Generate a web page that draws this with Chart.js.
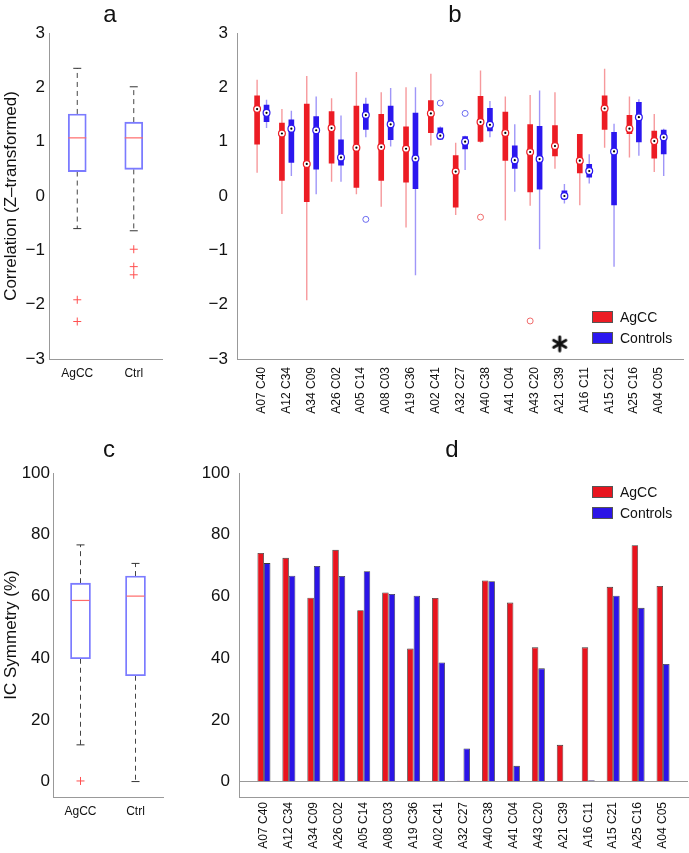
<!DOCTYPE html>
<html>
<head>
<meta charset="utf-8">
<script src="https://cdn.jsdelivr.net/npm/chart.js@4.4.1/dist/chart.umd.min.js"></script>
<style>
  body { margin: 0; background: #fff; font-family: "Liberation Sans", Arial, Helvetica, sans-serif; }
  #fig { position: relative; width: 689px; height: 853px; overflow: hidden; }
  canvas { position: absolute; }
  .letter { position: absolute; width: 40px; text-align: center; font-size: 24px; line-height: 24px; color: #111; }
  .legend { position: absolute; font-size: 14px; line-height: 21px; color: #111; }
  .legend .sw { display: inline-block; width: 19px; height: 10px; border: 1px solid #555; margin-right: 7px; vertical-align: -1px; }
</style>
</head>
<body>
<div id="fig">
  <canvas id="chartA" width="180" height="420" style="left:0;top:0"></canvas>
  <canvas id="chartB" width="509" height="420" style="left:180px;top:0"></canvas>
  <canvas id="chartC" width="180" height="433" style="left:0;top:420px"></canvas>
  <canvas id="chartD" width="509" height="433" style="left:180px;top:420px"></canvas>

  <div class="letter" style="left:90px;top:2px">a</div>
  <div class="letter" style="left:435px;top:2px">b</div>
  <div class="letter" style="left:89px;top:437px">c</div>
  <div class="letter" style="left:432px;top:437px">d</div>

  <div class="legend" style="left:592px;top:307px">
    <div><span class="sw" style="background:#ec1c24"></span>AgCC</div>
    <div><span class="sw" style="background:#2b17ef"></span>Controls</div>
  </div>
  <div class="legend" style="left:592px;top:482px">
    <div><span class="sw" style="background:#e8141e"></span>AgCC</div>
    <div><span class="sw" style="background:#2b14e6"></span>Controls</div>
  </div>
</div>

<script>
// ---- data ----
const groups = ["AgCC", "Ctrl"];

// panel a: correlation summary boxplots
const corrLow = [-0.6, -0.64];
const corrQ1 = [0.45, 0.49];
const corrMed = [1.07, 1.07];
const corrQ3 = [1.51, 1.36];
const corrHigh = [2.35, 2.01];
const corrOutliers = [[-1.91, -2.31], [-0.98, -1.3, -1.45]];
const corrTicks = [-3, -2, -1, 0, 1, 2, 3];

// panel b: per-pair boxplots
const pairs = ["A07 C40", "A12 C34", "A34 C09", "A26 C02", "A05 C14", "A08 C03", "A19 C36", "A02 C41",
  "A32 C27", "A40 C38", "A41 C04", "A43 C20", "A21 C39", "A16 C11", "A15 C21", "A25 C16", "A04 C05"];

const agccLow = [0.43, -0.33, -1.92, 0.26, 0.03, -0.2, -0.58, 0.93, -0.35, 0.98, -0.45, -0.18, 0.5, -0.17, 0.89, 0.71, 0.44];
const agccQ1 = [0.95, 0.28, -0.11, 0.6, 0.15, 0.28, 0.25, 1.16, -0.21, 1.0, 0.65, 0.07, 0.73, 0.42, 1.22, 1.14, 0.69];
const agccMed = [1.6, 1.15, 0.59, 1.25, 0.89, 0.9, 0.87, 1.52, 0.45, 1.36, 1.16, 0.81, 0.92, 0.65, 1.61, 1.24, 1.01];
const agccQ3 = [1.85, 1.35, 1.7, 1.56, 1.66, 1.51, 1.28, 1.76, 0.75, 1.84, 1.55, 1.32, 1.3, 1.14, 1.85, 1.49, 1.2];
const agccHigh = [2.14, 1.6, 2.21, 1.8, 2.28, 1.91, 2.0, 2.25, 0.98, 2.31, 1.83, 1.86, 1.91, 1.14, 2.34, 1.83, 1.51];
const agccOutliers = { "A40 C38": [-0.39], "A43 C20": [-2.3] };

const ctrlLow = [1.25, 0.37, 0.03, 0.26, 1.08, 0.91, -1.46, 1.03, 0.48, 1.08, 0.08, -0.98, -0.14, 0.23, -1.3, 0.74, 0.37];
const ctrlQ1 = [1.36, 0.61, 0.49, 0.56, 1.22, 1.03, 0.13, 1.04, 0.86, 1.19, 0.5, 0.12, -0.06, 0.34, -0.17, 0.99, 0.77];
const ctrlMed = [1.53, 1.24, 1.21, 0.71, 1.49, 1.32, 0.69, 1.11, 1.0, 1.31, 0.66, 0.68, 0.0, 0.46, 0.82, 1.45, 1.08];
const ctrlQ3 = [1.68, 1.41, 1.47, 1.04, 1.7, 1.66, 1.53, 1.26, 1.1, 1.62, 0.93, 1.29, 0.1, 0.59, 1.18, 1.73, 1.22];
const ctrlHigh = [1.77, 1.57, 1.83, 1.48, 1.81, 1.99, 2.0, 1.28, 1.11, 1.75, 1.32, 1.94, 0.22, 0.77, 1.33, 1.78, 1.24];
const ctrlOutliers = { "A05 C14": [-0.43], "A02 C41": [1.71], "A32 C27": [1.52] };

const significantPairs = ["A21 C39"];
const starLevel = -2.72;

// panel c: IC symmetry summary boxplots
const symLow = [11.9, 0];
const symQ1 = [39.8, 34.3];
const symMed = [58.7, 60.1];
const symQ3 = [64.3, 66.6];
const symHigh = [76.7, 70.7];
const symOutliers = [[0.2], []];
const symTicks = [0, 20, 40, 60, 80, 100];

// panel d: IC symmetry per pair
const agccSym = [74.1, 72.5, 59.6, 75.1, 55.5, 61.3, 43.1, 59.5, 0.3, 65.2, 58.0, 43.5, 11.9, 43.5, 63.1, 76.6, 63.4];
const ctrlSym = [70.8, 66.7, 69.9, 66.6, 68.2, 60.8, 60.2, 38.6, 10.7, 64.9, 5.1, 36.7, 0.15, 0.4, 60.2, 56.3, 38.1];

// ---- style ----
Chart.defaults.font.family = '"Liberation Sans", Arial, Helvetica, sans-serif';
Chart.defaults.color = "#111";
Chart.defaults.animation = false;

const RED = "#ec1c24";
const BLUE = "#2b17ef";
const AXIS = "#999";

const minus = (v) => String(v).replace("-", "\u2212");
const noPlugins = { legend: { display: false }, tooltip: { enabled: false } };

// six-armed bold asterisk used as a point style for the significance mark
function asteriskStyle() {
  const c = document.createElement("canvas");
  c.width = 18;
  c.height = 18;
  const g = c.getContext("2d");
  g.strokeStyle = "#111";
  g.lineWidth = 3;
  g.lineCap = "round";
  g.translate(9, 9);
  for (let k = 0; k < 3; k++) {
    g.beginPath();
    g.moveTo(0, -7);
    g.lineTo(0, 7);
    g.stroke();
    g.rotate(Math.PI / 3);
  }
  return c;
}

// summary boxplot for panels a and c
function summaryChart(id, s) {
  const xs = groups.map((g, i) => i + 1);
  const whiskers = [];
  const caps = [];
  xs.forEach((x, i) => {
    whiskers.push({ x, y: s.q3[i] }, { x, y: s.high[i] }, { x, y: null });
    whiskers.push({ x, y: s.q1[i] }, { x, y: s.low[i] }, { x, y: null });
    caps.push({ x, y: s.high[i] }, { x, y: s.low[i] });
  });
  const outliers = [];
  s.outliers.forEach((list, i) => list.forEach((v) => outliers.push({ x: i + 1, y: v })));

  new Chart(document.getElementById(id), {
    type: "bar",
    data: {
      datasets: [
        {
          type: "scatter",
          data: xs.map((x, i) => ({ x, y: s.med[i] })),
          pointStyle: "line",
          pointRadius: 9,
          borderColor: "#ff6a6a",
          borderWidth: 1.2,
          order: 0,
        },
        {
          type: "scatter",
          data: outliers,
          pointStyle: "cross",
          pointRadius: 4,
          borderColor: "#ff5050",
          borderWidth: 1,
          order: 0,
        },
        {
          type: "scatter",
          data: caps,
          pointStyle: "line",
          pointRadius: 4,
          borderColor: "#333",
          borderWidth: 1,
          order: 1,
        },
        {
          type: "bar",
          data: xs.map((x, i) => ({ x, y: [s.q1[i], s.q3[i]] })),
          backgroundColor: "rgba(0,0,0,0)",
          borderColor: "#7b7bff",
          borderWidth: 1.2,
          borderSkipped: false,
          barThickness: s.boxWidth,
          order: 2,
        },
        {
          type: "line",
          data: whiskers,
          borderColor: "#444",
          borderWidth: 1,
          borderDash: [5, 4],
          pointRadius: 0,
          spanGaps: false,
          order: 3,
        },
      ],
    },
    options: {
      responsive: false,
      layout: { padding: s.padding },
      plugins: noPlugins,
      scales: {
        x: {
          type: "linear",
          min: 0.5,
          max: 2.5,
          offset: false,
          grid: { display: false, drawTicks: false },
          border: { color: AXIS },
          afterBuildTicks: (sc) => { sc.ticks = xs.map((v) => ({ value: v })); },
          afterFit: (sc) => { sc.height = s.xHeight; },
          ticks: { callback: (v) => groups[v - 1], font: { size: 12 }, padding: 7, maxRotation: 0 },
        },
        y: {
          type: "linear",
          min: s.yMin,
          max: s.yMax,
          grid: { display: false, drawTicks: false },
          border: { color: AXIS },
          afterBuildTicks: (sc) => { sc.ticks = s.ticks.map((v) => ({ value: v })); },
          afterFit: (sc) => { sc.width = s.yWidth; },
          ticks: { callback: (v) => minus(v), font: { size: 17 }, padding: s.tickPad },
          title: { display: true, text: s.title, font: { size: 17 }, padding: { top: 1, bottom: 0 } },
        },
      },
    },
  });
}

summaryChart("chartA", {
  low: corrLow, q1: corrQ1, med: corrMed, q3: corrQ3, high: corrHigh, outliers: corrOutliers,
  ticks: corrTicks, yMin: -3, yMax: 3, title: "Correlation (Z\u2013transformed)",
  padding: { left: 0, top: 33, right: 18, bottom: 0 }, xHeight: 61, yWidth: 49, tickPad: 4, boxWidth: 18,
});

summaryChart("chartC", {
  low: symLow, q1: symQ1, med: symMed, q3: symQ3, high: symHigh, outliers: symOutliers,
  ticks: symTicks, yMin: -5, yMax: 100, title: "IC Symmetry (%)",
  padding: { left: 0, top: 53, right: 17, bottom: 0 }, xHeight: 56, yWidth: 53, tickPad: 3, boxWidth: 20,
});

// shared x axis for the per-pair panels (positions 1..17, limits 0..18)
function pairAxis(xHeight, pad) {
  return {
    type: "linear",
    min: 0,
    max: pairs.length + 1,
    offset: false,
    grid: { display: false, drawTicks: false },
    border: { color: AXIS },
    afterBuildTicks: (sc) => { sc.ticks = pairs.map((p, i) => ({ value: i + 1 })); },
    afterFit: (sc) => { sc.height = xHeight; },
    ticks: {
      callback: (v) => pairs[v - 1],
      font: { size: 12 },
      padding: pad,
      autoSkip: false,
      minRotation: 90,
      maxRotation: 90,
    },
  };
}

// panel b
const shift = 0.19; // box centre offset from the pair position, in axis units
const boxSet = (q1, q3) => pairs.map((p, i) => ({ x: i + 1, y: [q1[i], q3[i]] }));
const medSet = (med, dx) => pairs.map((p, i) => ({ x: i + 1 + dx, y: med[i] }));
const outSet = (map, dx) => {
  const pts = [];
  pairs.forEach((p, i) => (map[p] || []).forEach((v) => pts.push({ x: i + 1 + dx, y: v })));
  return pts;
};

new Chart(document.getElementById("chartB"), {
  type: "bar",
  data: {
    datasets: [
      { type: "scatter", data: medSet(agccMed, -shift), pointRadius: 1.1, backgroundColor: "#000", borderWidth: 0, order: 0 },
      { type: "scatter", data: medSet(ctrlMed, shift), pointRadius: 1.1, backgroundColor: "#000", borderWidth: 0, order: 0 },
      { type: "scatter", data: medSet(agccMed, -shift), pointRadius: 3.4, backgroundColor: "#fff", borderColor: RED, borderWidth: 1.2, order: 1 },
      { type: "scatter", data: medSet(ctrlMed, shift), pointRadius: 3.4, backgroundColor: "#fff", borderColor: BLUE, borderWidth: 1.2, order: 1 },
      { type: "scatter", data: outSet(agccOutliers, -shift), pointRadius: 3, backgroundColor: "rgba(0,0,0,0)", borderColor: "#f06a6a", borderWidth: 1, order: 1 },
      { type: "scatter", data: outSet(ctrlOutliers, shift), pointRadius: 3, backgroundColor: "rgba(0,0,0,0)", borderColor: "#6a6af0", borderWidth: 1, order: 1 },
      {
        type: "scatter",
        data: significantPairs.map((p) => ({ x: pairs.indexOf(p) + 1, y: starLevel })),
        pointStyle: asteriskStyle(), order: 0,
      },
      { label: "AgCC", data: boxSet(agccQ1, agccQ3), backgroundColor: RED, borderWidth: 0, stack: "agcc",
        categoryPercentage: 4 * shift, barPercentage: 0.6, order: 2 },
      { label: "Controls", data: boxSet(ctrlQ1, ctrlQ3), backgroundColor: BLUE, borderWidth: 0, stack: "ctrl",
        categoryPercentage: 4 * shift, barPercentage: 0.6, order: 2 },
      { data: boxSet(agccLow, agccHigh), backgroundColor: "rgba(236,28,36,0.45)", borderWidth: 0, stack: "agcc",
        categoryPercentage: 4 * shift, barPercentage: 0.6, maxBarThickness: 1.4, order: 3 },
      { data: boxSet(ctrlLow, ctrlHigh), backgroundColor: "rgba(43,23,239,0.45)", borderWidth: 0, stack: "ctrl",
        categoryPercentage: 4 * shift, barPercentage: 0.6, maxBarThickness: 1.4, order: 3 },
    ],
  },
  options: {
    responsive: false,
    layout: { padding: { left: 0, top: 33, right: 1, bottom: 0 } },
    plugins: noPlugins,
    scales: {
      x: pairAxis(61, 8),
      y: {
        type: "linear",
        min: -3,
        max: 3,
        stacked: false,
        grid: { display: false, drawTicks: false },
        border: { color: AXIS },
        afterBuildTicks: (sc) => { sc.ticks = corrTicks.map((v) => ({ value: v })); },
        afterFit: (sc) => { sc.width = 57; },
        ticks: { callback: (v) => minus(v), font: { size: 17 }, padding: 9 },
      },
    },
  },
});

// panel d
new Chart(document.getElementById("chartD"), {
  type: "bar",
  data: {
    datasets: [
      { label: "AgCC", data: agccSym.map((v, i) => ({ x: i + 1, y: v })), backgroundColor: "#e8141e",
        borderColor: "#3a3a3a", borderWidth: 0.8, categoryPercentage: 0.52, barPercentage: 1 },
      { label: "Controls", data: ctrlSym.map((v, i) => ({ x: i + 1, y: v })), backgroundColor: "#2b14e6",
        borderColor: "#3a3a3a", borderWidth: 0.8, categoryPercentage: 0.52, barPercentage: 1 },
    ],
  },
  options: {
    responsive: false,
    layout: { padding: { left: 0, top: 53, right: 1, bottom: 0 } },
    plugins: noPlugins,
    scales: {
      x: pairAxis(56, 5),
      y: {
        type: "linear",
        min: -5,
        max: 100,
        grid: {
          drawTicks: false,
          color: (ctx) => (ctx.tick && ctx.tick.value === 0 ? AXIS : "rgba(0,0,0,0)"),
        },
        border: { color: AXIS },
        afterBuildTicks: (sc) => { sc.ticks = symTicks.map((v) => ({ value: v })); },
        afterFit: (sc) => { sc.width = 59; },
        ticks: { font: { size: 17 }, padding: 9 },
      },
    },
  },
});
</script>
</body>
</html>
